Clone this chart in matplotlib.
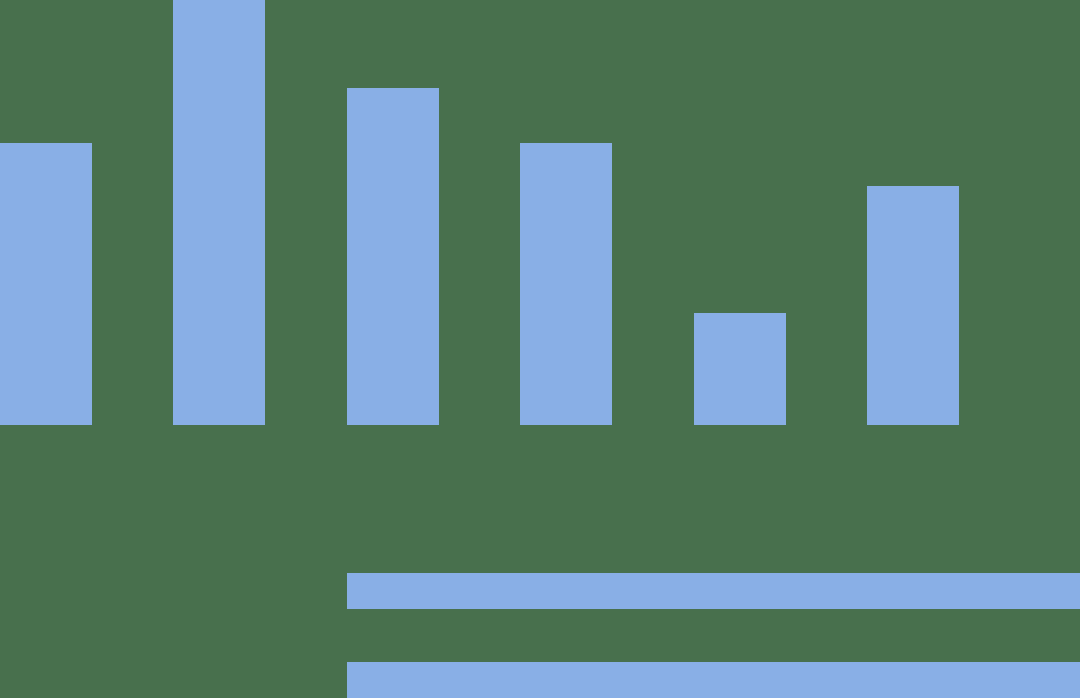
import matplotlib
matplotlib.use("Agg")
import matplotlib.pyplot as plt

# Data
categories = ["A", "B", "C", "D", "E", "F"]
values = [66.4, 110.0, 79.3, 66.4, 26.4, 56.2]
h_categories = ["G", "H"]
h_values = [120.0, 120.0]

BG = "#48704D"
BAR = "#89AFE6"

fig = plt.figure(figsize=(10.8, 6.98), dpi=100)
fig.patch.set_facecolor(BG)

# Vertical bars axes (full figure)
ax = fig.add_axes([0, 0, 1, 1])
ax.set_facecolor(BG)
xs = list(range(len(categories)))
ax.bar(xs, values, width=92 / 173.4, color=BAR, linewidth=0)
ax.set_xlim(-46 / 173.4, (1080 - 46) / 173.4)
ax.set_ylim(-273 / 4.25, 425 / 4.25)
ax.axis("off")

# Horizontal bars axes (bottom right)
ax2 = fig.add_axes([347 / 1080, 0, (1080 - 347) / 1080, 138 / 698])
ax2.patch.set_alpha(0)
ys = list(range(len(h_categories)))
ax2.barh(ys, h_values, height=36 / 89, color=BAR, linewidth=0)
ax2.set_xlim(0, 100)
ax2.set_ylim(-18 / 89, 120 / 89)
ax2.axis("off")

fig.savefig("out.png", dpi=100, facecolor=BG)
